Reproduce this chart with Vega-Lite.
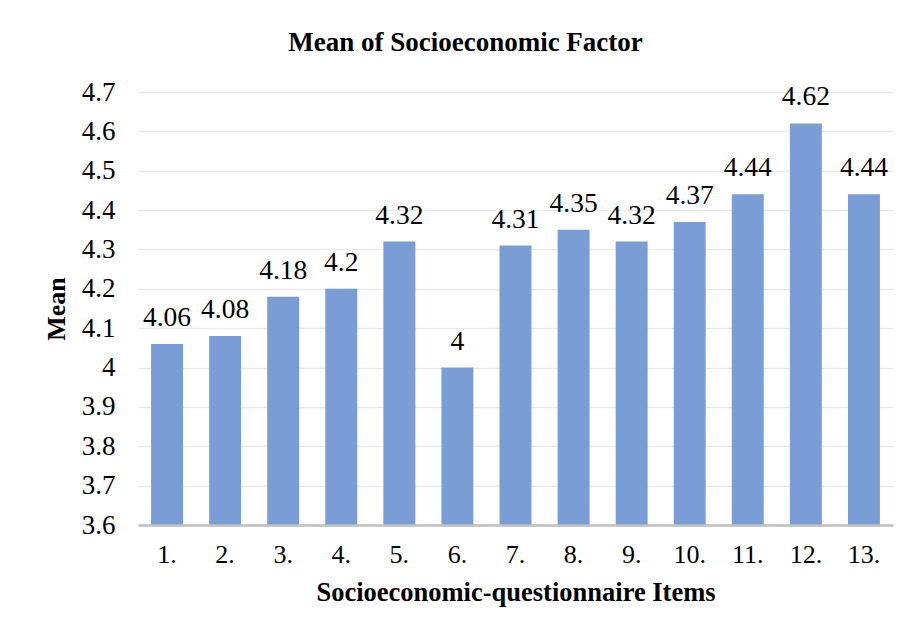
{
  "$schema": "https://vega.github.io/schema/vega-lite/v6.json",
  "width": 755,
  "height": 433,
  "autosize": {"type": "none"},
  "padding": {"left": 138, "top": 92, "right": 16, "bottom": 112},
  "background": "white",
  "config": {
    "view": {"stroke": null},
    "font": "Liberation Serif, Times New Roman, serif",
    "text": {"font": "Liberation Serif, Times New Roman, serif"},
    "axis": {"labelFont": "Liberation Serif, Times New Roman, serif", "titleFont": "Liberation Serif, Times New Roman, serif"}
  },
  "title": {
    "text": "Mean of Socioeconomic Factor",
    "font": "Liberation Serif, Times New Roman, serif",
    "fontSize": 27,
    "fontWeight": "bold",
    "color": "#000000",
    "anchor": "middle",
    "frame": "group",
    "dx": -50,
    "offset": 21
  },
  "data": {
    "values": [
      {"item": "1.", "mean": 4.06},
      {"item": "2.", "mean": 4.08},
      {"item": "3.", "mean": 4.18},
      {"item": "4.", "mean": 4.2},
      {"item": "5.", "mean": 4.32},
      {"item": "6.", "mean": 4.0},
      {"item": "7.", "mean": 4.31},
      {"item": "8.", "mean": 4.35},
      {"item": "9.", "mean": 4.32},
      {"item": "10.", "mean": 4.37},
      {"item": "11.", "mean": 4.44},
      {"item": "12.", "mean": 4.62},
      {"item": "13.", "mean": 4.44}
    ]
  },
  "encoding": {
    "x": {
      "field": "item",
      "type": "nominal",
      "sort": null,
      "scale": {"paddingInner": 0.45, "paddingOuter": 0.225},
      "axis": {
        "title": "Socioeconomic-questionnaire Items",
        "titleFontSize": 26.5,
        "titleFontWeight": "bold",
        "titleColor": "#000000",
        "titlePadding": 12,
        "labelFontSize": 26,
        "labelColor": "#000000",
        "labelAngle": 0,
        "labelPadding": 16,
        "ticks": false,
        "domainColor": "#bfbfbf",
        "domainWidth": 2.5,
        "grid": false,
        "zindex": 1
      }
    },
    "y": {
      "field": "mean",
      "type": "quantitative",
      "scale": {"domain": [3.6, 4.7], "nice": false, "zero": false},
      "axis": {
        "title": "Mean",
        "titleFontSize": 26,
        "titleFontWeight": "bold",
        "titleColor": "#000000",
        "titlePadding": 12,
        "values": [3.6, 3.7, 3.8, 3.9, 4.0, 4.1, 4.2, 4.3, 4.4, 4.5, 4.6, 4.7],
        "format": "~g",
        "labelFontSize": 27,
        "labelColor": "#000000",
        "labelPadding": 23,
        "ticks": false,
        "domain": false,
        "grid": true,
        "gridColor": "#e9e9e9",
        "gridWidth": 1.5
      }
    }
  },
  "layer": [
    {
      "mark": {"type": "bar", "color": "#7b9dd6"},
      "encoding": {"y2": {"datum": 3.6}}
    },
    {
      "mark": {
        "type": "text",
        "fontSize": 27.5,
        "color": "#000000",
        "baseline": "alphabetic",
        "dy": -18
      },
      "encoding": {
        "text": {"field": "mean", "type": "quantitative", "format": "~g"}
      }
    }
  ]
}
